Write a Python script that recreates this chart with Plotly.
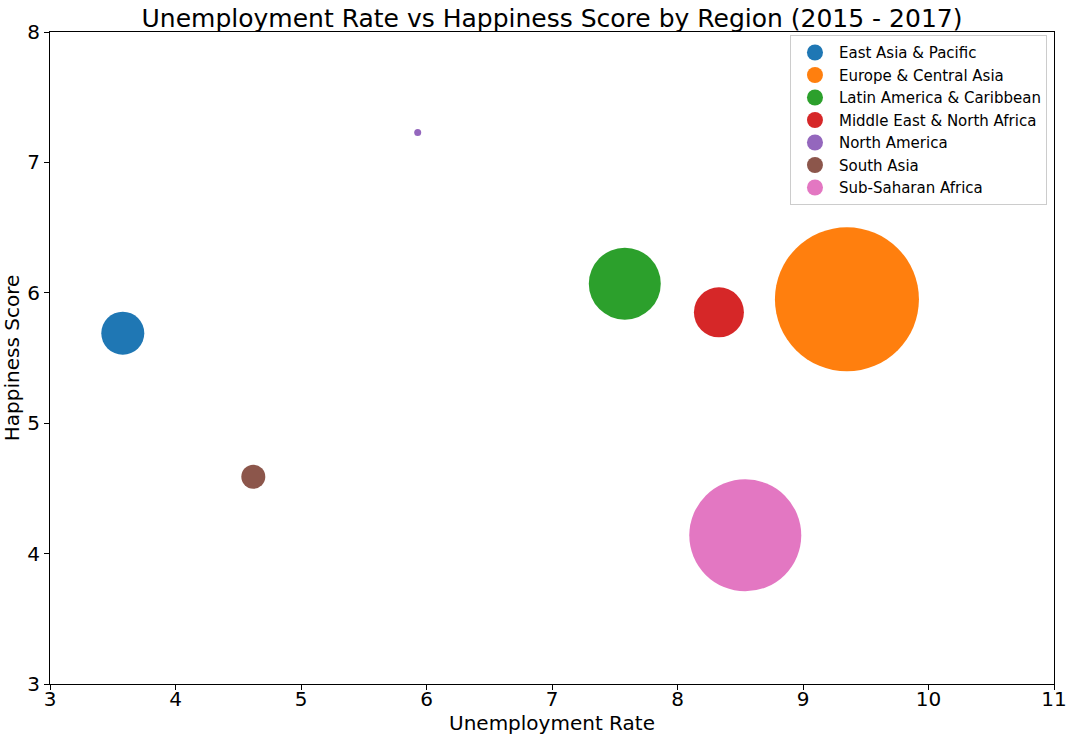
import plotly.graph_objects as go

# Werte
regions = ["East Asia & Pacific", "Europe & Central Asia", "Latin America & Caribbean",
           "Middle East & North Africa", "North America", "South Asia", "Sub-Saharan Africa"]
unemployment = [3.58, 9.35, 7.58, 8.33, 5.93, 4.62, 8.54]
happiness = [5.69, 5.95, 6.07, 5.85, 7.23, 4.59, 4.14]
bubble_size = [1850, 20740, 5180, 2500, 49, 576, 12540]

colors = ["#1f77b4", "#ff7f0e", "#2ca02c", "#d62728", "#9467bd", "#8c564b", "#e377c2"]

x_ticks = [3, 4, 5, 6, 7, 8, 9, 10, 11]
y_ticks = [3, 4, 5, 6, 7, 8]

fig = go.Figure()

for i, region in enumerate(regions):
    # eigentliche Blase
    fig.add_trace(go.Scatter(
        x=[unemployment[i]], y=[happiness[i]],
        mode="markers",
        name=region,
        legendgroup=region,
        showlegend=False,
        marker=dict(size=[bubble_size[i]], sizemode="area", sizeref=2,
                    color=colors[i], line=dict(width=0), opacity=1),
    ))
    # Legenden-Eintrag mit konstanter Markergröße
    fig.add_trace(go.Scatter(
        x=[None], y=[None],
        mode="markers",
        name=region,
        legendgroup=region,
        showlegend=True,
        marker=dict(size=16, color=colors[i], line=dict(width=0)),
    ))

axis_style = dict(
    showgrid=False, zeroline=False, automargin=False,
    showline=True, linecolor="black", linewidth=1, mirror=True,
    ticks="outside", ticklen=5, tickwidth=1, tickcolor="black",
    tickfont=dict(size=20, color="black"), ticklabeloverflow="allow",
)

fig.update_xaxes(range=[3, 11], tickvals=x_ticks, ticklabelstandoff=-8,
                 title=dict(text="Unemployment Rate", font=dict(size=20, color="black"), standoff=4),
                 **axis_style)
fig.update_yaxes(range=[3, 8], tickvals=y_ticks,
                 title=dict(text="Happiness Score", font=dict(size=20, color="black"), standoff=2),
                 **axis_style)

fig.update_layout(
    width=1074, height=740,
    title=dict(text="Unemployment Rate vs Happiness Score by Region (2015 - 2017)",
               xref="paper", x=0.5, xanchor="center", y=0.9757, yanchor="middle",
               font=dict(size=25, color="black")),
    font=dict(family="DejaVu Sans", color="black"),
    plot_bgcolor="white", paper_bgcolor="white",
    margin=dict(l=50, r=20, t=32, b=56, autoexpand=False),
    legend=dict(
        x=0.993, y=0.995, xanchor="right", yanchor="top",
        bordercolor="#cccccc", borderwidth=1, bgcolor="rgba(255,255,255,0.8)",
        font=dict(size=15, color="black"),
        itemwidth=38, traceorder="normal",
    ),
)

# Seitenrand des Browsers entfernen, damit die Figur bei (0,0) beginnt
fig.write_html("out.html", config={"displayModeBar": False},
               post_script="document.body.style.margin='0';")
